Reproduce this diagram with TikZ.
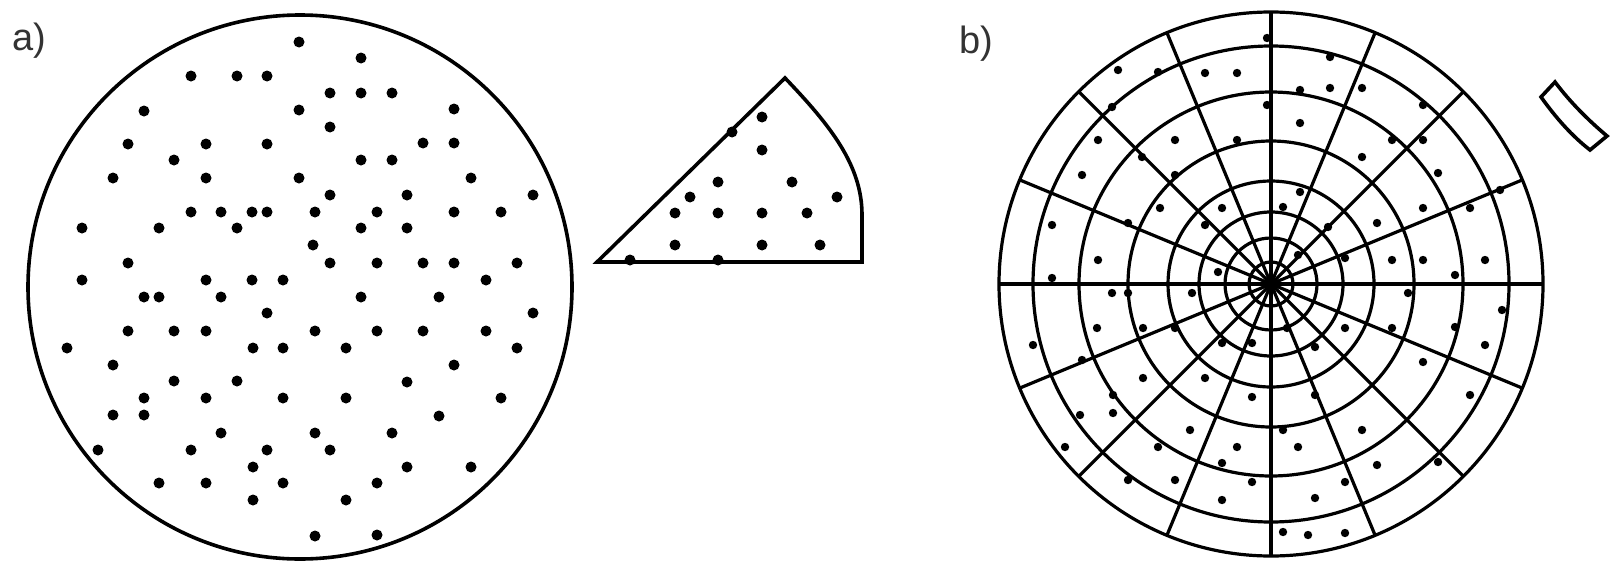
\documentclass[tikz,border=0pt]{standalone}
\usepackage{fontspec}
\setmainfont{Liberation Sans}
\begin{document}
\begin{tikzpicture}[x=0.5pt,y=-0.5pt,
  rim/.style={line width=1.8pt},
  gridline/.style={line width=1.6pt},
  speck/.style={fill=black},
  lbl/.style={font=\fontsize{19}{22}\selectfont, text=black!80, inner sep=0pt}]
\useasboundingbox (0,0) rectangle (1610,562);

% labels
\node[lbl] (la) at (29,41) {a)};
\node[lbl] (lb) at (976,44) {b)};

% a) random points in the disc
\draw[rim] (300,287) circle (272);
\foreach \x/\y in {299/42,361/58,191/76,237/76,267/76,330/93,361/93,392/93,
  144/111,299/110,454/109,330/127,128/144,206/144,267/144,423/143,454/143,
  174/160,361/160,392/160,113/178,206/178,299/178,471/178,330/195,407/195,533/195,
  191/212,221/212,252/212,267/212,315/212,377/212,454/212,501/212,
  82/228,159/228,237/228,361/228,407/228,313/245,
  128/263,330/263,377/263,423/263,454/263,517/263,
  82/280,206/280,252/280,283/280,486/280,
  144/297,159/297,221/297,361/297,439/297,267/313,533/313,
  128/331,174/331,206/331,315/331,377/331,423/331,486/331,
  67/348,253/348,283/348,346/348,517/348,113/365,454/365,
  174/381,237/381,407/382,144/398,206/398,283/398,346/398,501/398,
  113/415,144/415,439/416,221/433,315/433,392/433,
  98/450,191/450,267/450,330/450,253/467,407/467,471/467,
  159/483,206/483,283/483,377/483,253/500,346/500,315/536,377/535}
  \fill[speck] (\x,\y) circle (5.5);

% a) one slice
\draw[rim] (597,262) -- (785,78) .. controls (830,125) and (862,165) .. (862,215) -- (862,262) -- cycle;
\foreach \x/\y in {762/117,732/132,762/150,718/182,792/182,690/197,837/197,
  675/213,718/213,762/213,807/213,675/245,762/245,820/245,630/260,718/260}
  \fill[speck] (\x,\y) circle (5.5);

% b) polar grid
\coordinate (c) at (1271,284);
\foreach \r in {272,238,192,143,103,72,46,22}
  \draw[gridline] (c) circle (\r);
\foreach \a in {0,22.5,...,157.5}
  \draw[gridline] (c) ++(\a:272) -- ++(\a+180:544);
\foreach \x/\y in {1267/38,1118/70,1158/72,1205/73,1237/73,1330/57,
  1300/90,1330/88,1362/88,1423/105,1112/107,1267/105,1300/123,
  1098/140,1175/140,1237/140,1392/140,1423/140,1142/157,1362/157,
  1082/175,1175/175,1438/173,1300/192,1500/190,
  1160/208,1222/208,1283/207,1423/208,1470/208,
  1052/225,1128/223,1205/225,1328/227,1377/223,
  1298/255,1345/258,1098/260,1392/260,1423/260,1485/260,
  1218/272,1052/278,1455/275,1112/293,1128/293,1192/293,1408/293,1502/310,
  1455/327,1392/328,1345/328,1287/328,1097/328,1143/328,1175/328,
  1222/343,1252/343,1033/345,1485/345,1315/347,1082/360,1423/362,
  1143/378,1205/378,1113/395,1252/397,1470/395,1315/395,
  1080/415,1113/413,1190/430,1362/430,1283/430,
  1065/447,1158/447,1237/447,1298/447,1222/463,1377/465,1438/462,
  1128/480,1175/480,1252/482,1345/482,1222/500,1315/498,
  1283/532,1308/535,1345/533}
  \fill[speck] (\x,\y) circle (4.2);

% b) one cell
\draw[rim] (1555,82) -- (1541,97) .. controls (1556,118) and (1572,136) .. (1590,150)
  -- (1607,136) .. controls (1588,120) and (1570,102) .. cycle;
\end{tikzpicture}
\end{document}
